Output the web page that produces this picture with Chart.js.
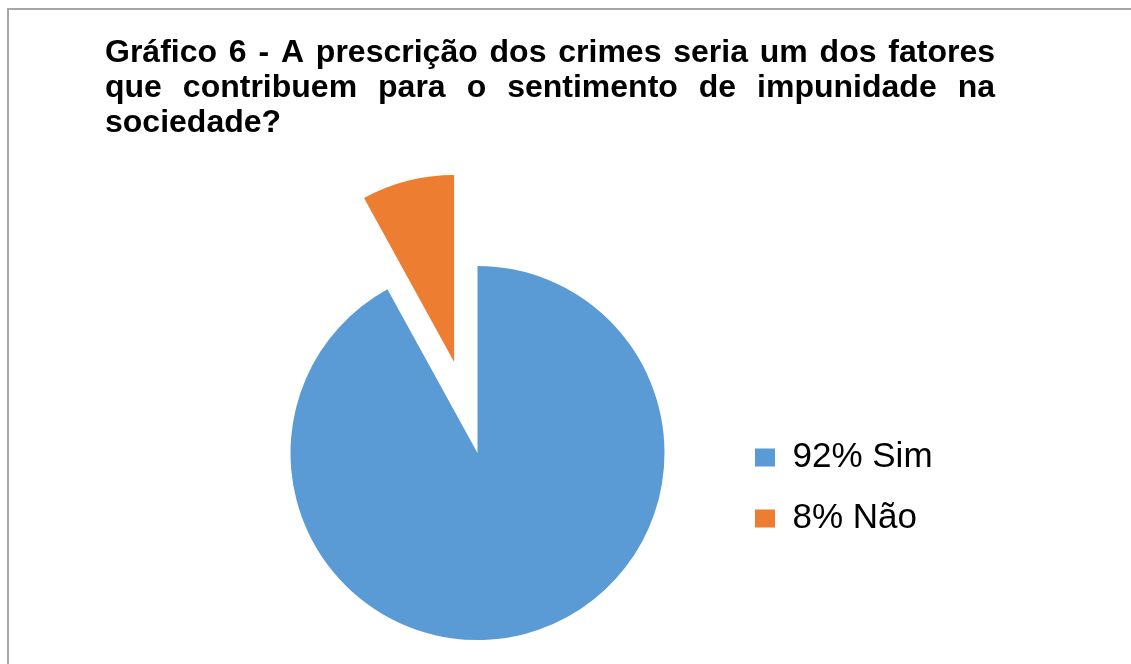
<!DOCTYPE html>
<html>
<head>
<meta charset="utf-8">
<script src="https://cdn.jsdelivr.net/npm/chart.js@4.4.1/dist/chart.umd.min.js"></script>
<style>
  html, body { margin: 0; padding: 0; background: #fff; }
  #wrap { position: relative; width: 1131px; height: 664px; overflow: hidden; }
  #frame { position: absolute; left: 7px; top: 8px; right: -2px; bottom: -2px;
           border-top: 2px solid #a6a6a6; border-left: 2px solid #a6a6a6; }
  canvas { position: absolute; left: 0; top: 0; }
</style>
</head>
<body>
<div id="wrap">
  <div id="frame"></div>
  <canvas id="grafico" width="1131" height="664"></canvas>
</div>
<script>
// Dados do gráfico
const titleLines = [
  'Gráfico 6 - A prescrição dos crimes seria um dos fatores',
  'que contribuem para o sentimento de impunidade na',
  'sociedade?'
];
const categories = ['Sim', 'Não'];
const values = [92, 8];
const colors = ['#5B9BD5', '#ED7D31'];

const fontFamily = '"Liberation Sans", Arial, sans-serif';

// Título justificado, como no documento original
const justifiedTitle = {
  id: 'justifiedTitle',
  afterDraw(chart, args, opts) {
    const ctx = chart.ctx;
    ctx.save();
    ctx.font = opts.font;
    ctx.fillStyle = opts.color;
    ctx.textBaseline = 'alphabetic';
    opts.lines.forEach((line, i) => {
      const y = opts.top + i * opts.lineHeight;
      const words = line.split(' ');
      if (i === opts.lines.length - 1 || words.length < 2) {
        ctx.fillText(line, opts.left, y);
        return;
      }
      const total = words.reduce((s, w) => s + ctx.measureText(w).width, 0);
      const gap = (opts.width - total) / (words.length - 1);
      let x = opts.left;
      words.forEach(w => {
        ctx.fillText(w, x, y);
        x += ctx.measureText(w).width + gap;
      });
    });
    ctx.restore();
  }
};

// Fatia destacada: desloca o centro do arco ao longo do seu ângulo médio
const explode = {
  id: 'explode',
  afterDatasetUpdate(chart, args, opts) {
    args.meta.data.forEach((arc, i) => {
      const d = (opts.distance || [])[i] || 0;
      if (!d) return;
      const mid = (arc.startAngle + arc.endAngle) / 2;
      arc.x += Math.cos(mid) * d;
      arc.y += Math.sin(mid) * d;
    });
  }
};

const ctx = document.getElementById('grafico').getContext('2d');
const chart = new Chart(ctx, {
  type: 'pie',
  data: {
    labels: categories,
    datasets: [{
      data: values,
      backgroundColor: colors,
      borderWidth: 0,
      radius: 187,
      clip: false
    }]
  },
  options: {
    responsive: false,
    animation: false,
    events: [],
    layout: { padding: { top: 266, bottom: 24, left: 226, right: 180 } },
    plugins: {
      title: { display: false },
      tooltip: { enabled: false },
      legend: {
        position: 'right',
        title: { display: true, text: '', padding: { top: 69, bottom: 0 }, font: { size: 1, lineHeight: 1 } },
        labels: {
          boxWidth: 20,
          boxHeight: 18,
          padding: 26,
          color: '#000',
          font: { size: 35, family: fontFamily },
          generateLabels(chart) {
            const items = Chart.overrides.doughnut.plugins.legend.labels.generateLabels(chart);
            items.forEach((it, i) => { it.text = values[i] + '% ' + categories[i]; });
            return items;
          }
        }
      },
      justifiedTitle: {
        lines: titleLines,
        font: 'bold 32px ' + fontFamily,
        color: '#000',
        left: 105,
        width: 890,
        top: 62,
        lineHeight: 35
      },
      explode: { distance: [0, 94] }
    }
  },
  plugins: [justifiedTitle, explode]
});

// a área do gráfico termina em x = 729, para o centro da pizza ficar em 477.5
chart.options.layout.padding.right = chart.width - 729 - chart.legend.width;
chart.update();
</script>
</body>
</html>
